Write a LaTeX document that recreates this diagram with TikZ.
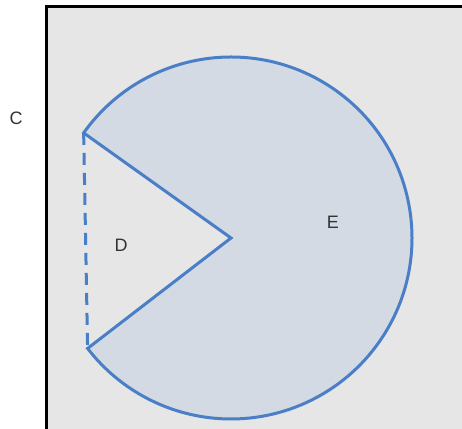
\documentclass[tikz,border=0pt]{standalone}
\usepackage{fontspec}
\setmainfont{Liberation Sans}
\usetikzlibrary{positioning,calc}
\definecolor{sheetgray}{HTML}{E6E6E6}
\definecolor{sectorblue}{HTML}{4A7EC6}
\definecolor{sectorfill}{HTML}{D3DAE4}

\begin{document}
\begin{tikzpicture}[
  x=0.5pt, y=0.5pt,
  region/.style={font=\fontsize{9}{11}\selectfont, text=black!80, inner sep=0pt},
  rim/.style={draw=sectorblue, line width=1.5pt, line join=miter},
  chord/.style={draw=sectorblue, line width=1.5pt, dashed, dash pattern=on 6pt off 4pt}
]
\useasboundingbox (0,0) rectangle (462,429);
\fill[white] (0,0) rectangle (462,429);

% outer sheet, open to the right and bottom
\draw[line width=1.5pt, fill=sheetgray] (47,-20) rectangle (480,422);

% sector with its wedge cut out
\coordinate (ctr) at (231,191);
\coordinate (upper) at ($(ctr)+(144.5:90.5pt)$);
\coordinate (lower) at ($(ctr)+(217.6:90.5pt)$);
\path[rim, fill=sectorfill] (ctr) -- (upper) arc[start angle=144.5, end angle=-142.4, radius=90.5pt] -- cycle;
\draw[chord] (upper) -- (lower);

\node[region] (lblC) at (16,311) {C};
\node[region] (lblD) at (121,184) {D};
\node[region] (lblE) at (333,207) {E};
\end{tikzpicture}
\end{document}
